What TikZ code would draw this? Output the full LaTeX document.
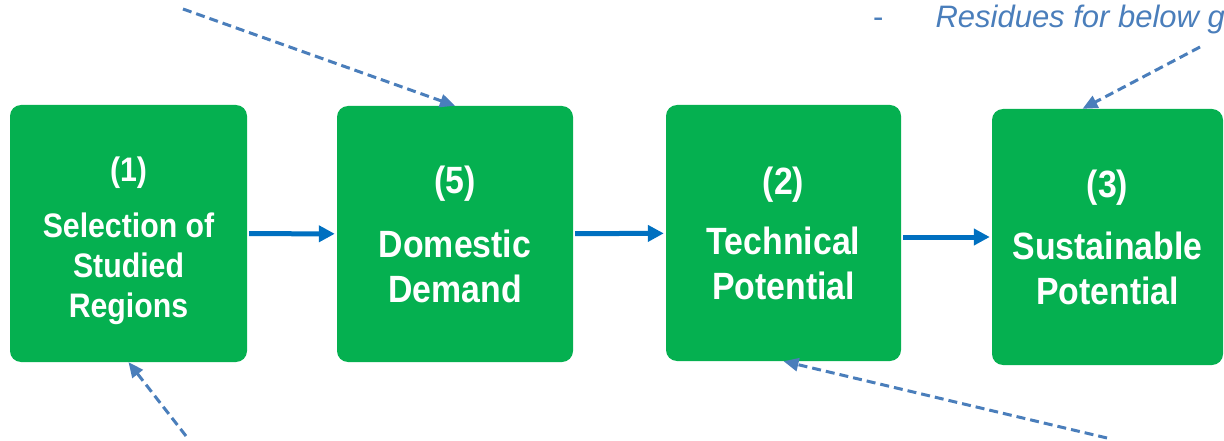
\documentclass[tikz,border=0pt]{standalone}
\usepackage{fontspec}
\setmainfont{Liberation Sans}
\newfontfamily\stagefont{Liberation Sans}[FakeStretch=0.89]
\usetikzlibrary{arrows.meta, calc}
\definecolor{stagegreen}{HTML}{05B050}
\definecolor{flowblue}{HTML}{0070C0}
\definecolor{hintblue}{HTML}{4A7EBB}

\begin{document}
\begin{tikzpicture}[
        x=1pt, y=-1pt,
        stage/.style={fill=stagegreen, rounded corners=11pt, text=white, align=center, inner sep=0pt,
          minimum width=235pt, minimum height=256pt, font=\stagefont\bfseries\fontsize{38}{45}\selectfont},
        smallstage/.style={stage, font=\stagefont\bfseries\fontsize{34}{40}\selectfont},
        flow/.style={-{Triangle[length=16pt, width=16pt]}, line width=5pt, draw=flowblue, shorten <=2pt, shorten >=2pt},
        hint/.style={-{Triangle[length=15pt, width=13pt]}, line width=3pt, draw=hintblue, dash pattern=on 9pt off 5pt},
        note/.style={text=hintblue, anchor=base west, inner sep=0pt, font=\fontsize{31}{36}\selectfont}
      ]
        \useasboundingbox (0,0) rectangle (1224,441);
        \clip (0,0) rectangle (1224,441);
        \node[smallstage, minimum width=237pt, minimum height=257pt] (select) at (128.5,233.5) {\rule{0pt}{40pt}(1)\\[16pt]Selection of\\Studied\\Regions};
        \node[stage, minimum width=236pt] (domestic) at (455,234) {(5)\\[19pt]Domestic\\Demand};
        \node[stage] (technical) at (783.5,233) {(2)\\[15pt]Technical\\Potential};
        \node[stage, minimum width=231pt] (sustain) at (1107.5,237) {(3)\\[17pt]Sustainable\\Potential};
        \node[note] (residues) at (873,28) {-\hspace{52pt}\itshape Residues for below gr};
        \coordinate (topleft) at (183,9);
        \coordinate (topright) at (1200,47);
        \coordinate (botleft) at (186,436);
        \coordinate (botright) at (1107,438);
        \draw[flow] (select) -- (domestic);
        \draw[flow] (domestic) -- (technical);
        \draw[flow] (technical.east |- sustain.west) -- (sustain.west);
        \draw[hint] (topleft) -- (domestic.north);
        \draw[hint] (topright) -- ([xshift=-25pt]sustain.north);
        \draw[hint] (botleft) -- (select.south);
        \draw[hint] (botright) -- (technical.south);
      \end{tikzpicture}
\end{document}
